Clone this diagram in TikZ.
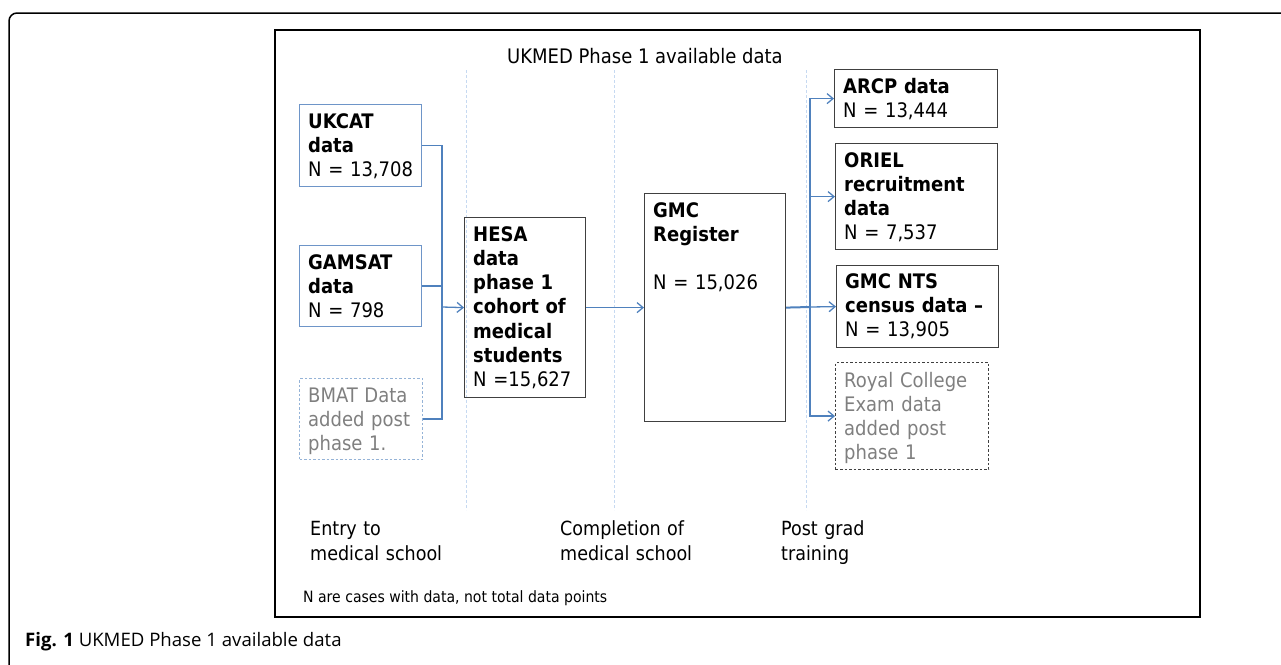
\documentclass[tikz,border=0pt]{standalone}
\usepackage{fontspec}
\setmainfont{DejaVu Sans Condensed}
\newfontfamily\capfont{Open Sans}[BoldFont={Open Sans Bold}]
\usetikzlibrary{arrows.meta}
\definecolor{connblue}{HTML}{4F81BD}
\definecolor{boxblue}{HTML}{6E95C8}
\definecolor{lightblue}{HTML}{95B3D7}
\definecolor{guideblue}{HTML}{C6D9F1}
\definecolor{boxgrey}{HTML}{404040}
\definecolor{txtgrey}{HTML}{7F7F7F}
\tikzset{
  box/.style={draw=#1, line width=1.2pt, inner sep=0pt, anchor=north west},
  dbox/.style={box=#1, dash pattern=on 2.5pt off 2pt},
  txt/.style={inner sep=0pt, anchor=base west, align=left, text width=#1,
    font=\fontsize{20}{24.3}\selectfont},
  lbl/.style={inner sep=0pt, anchor=base west, align=left, text width=160pt,
    font=\fontsize{19.5}{25}\selectfont},
  conn/.style={draw=connblue, line width=1.3pt},
  arr/.style={conn, -{Straight Barb[length=6pt,width=10pt]}},
  guide/.style={draw=guideblue, line width=1pt, dash pattern=on 3pt off 2pt}
}
\begin{document}
\begin{tikzpicture}[x=1pt,y=-1pt]
\useasboundingbox (0,0) rectangle (1281,664);
\clip (0,0) rectangle (1281,664);
% outer frame
\draw[line width=1.5pt, rounded corners=8pt] (9,680) -- (9,13) -- (1300,13);
% inner frame
\draw[line width=2pt] (275,30) rectangle (1200,617);
% title
\node (title) [inner sep=0pt, anchor=base west, font=\fontsize{20}{24}\selectfont] at (507,63) {UKMED Phase 1 available data};
% guides
\draw[guide] (466,70) -- (466,510);
\draw[guide] (614,70) -- (614,510);
\draw[guide] (806,70) -- (806,510);
% left boxes
\node (ukcat) [box=boxblue, minimum width=122pt, minimum height=82pt] at (299,104) {};
\node (ukcatT) [txt=112pt] at ([shift={(9,24)}]ukcat.north west) {\textbf{UKCAT}\\\textbf{data}\\N = 13,708};
\node (gamsat) [box=boxblue, minimum width=122pt, minimum height=81pt] at (299,245) {};
\node (gamsatT) [txt=112pt] at ([shift={(9,24)}]gamsat.north west) {\textbf{GAMSAT}\\\textbf{data}\\N = 798};
\node (bmat) [dbox=lightblue, minimum width=123pt, minimum height=81pt] at (299,378) {};
\node (bmatT) [txt=112pt, text=txtgrey] at ([shift={(9,24)}]bmat.north west) {BMAT Data\\added post\\phase 1.};
% HESA
\node (hesa) [box=boxgrey, minimum width=121pt, minimum height=180pt] at (464,217) {};
\node (hesaT) [txt=112pt] at ([shift={(9,24)}]hesa.north west) {\textbf{HESA}\\\textbf{data}\\\textbf{phase 1}\\\textbf{cohort of}\\\textbf{medical}\\\textbf{students}\\N =15,627};
% GMC
\node (gmc) [box=boxgrey, minimum width=141pt, minimum height=228pt] at (644,193) {};
\node (gmcT) [txt=130pt] at ([shift={(9,24)}]gmc.north west) {\textbf{GMC}\\\textbf{Register}\\\mbox{}\\N = 15,026};
% right boxes
\node (arcp) [box=boxgrey, minimum width=163pt, minimum height=58pt] at (834,69) {};
\node (arcpT) [txt=152pt] at ([shift={(9,24)}]arcp.north west) {\textbf{ARCP data}\\N = 13,444};
\node (oriel) [box=boxgrey, minimum width=162pt, minimum height=106pt] at (835,143) {};
\node (orielT) [txt=152pt] at ([shift={(9,24)}]oriel.north west) {\textbf{ORIEL}\\\textbf{recruitment}\\\textbf{data}\\N = 7,537};
\node (nts) [box=boxgrey, minimum width=162pt, minimum height=82pt] at (836,265) {};
\node (ntsT) [txt=152pt] at ([shift={(9,23)}]nts.north west) {\textbf{GMC NTS}\\\textbf{census data –}\\N = 13,905};
\node (royal) [dbox=boxgrey, minimum width=153pt, minimum height=107pt] at (835,362) {};
\node (royalT) [txt=145pt, text=txtgrey] at ([shift={(9,25)}]royal.north west) {Royal College\\Exam data\\added post\\phase 1};
% connectors
\coordinate (jL) at (442,307);
\coordinate (jR) at (810,307);
\draw[conn] (ukcat.east) -| (jL);
\draw[conn] (gamsat.east) -| (jL);
\draw[conn] (bmat.east) -| (jL);
\draw[arr] (jL) -- (hesa.west);
\draw[arr] (hesa.east) -- (gmc.west);
\draw[conn, line width=2pt] (gmc.east) -- (jR);
\draw[arr] (jR) |- (arcp.west);
\draw[arr] (jR) |- (oriel.west);
\draw[arr] (jR) -- (nts.west);
\draw[arr] (jR) |- (royal.west);
% bottom labels
\node (lab1) [lbl] at (310,535) {Entry to\\medical school};
\node (lab2) [lbl] at (560,535) {Completion of\\medical school};
\node (lab3) [lbl] at (781,535) {Post grad\\training};
\node (note) [inner sep=0pt, anchor=base west, font=\fontsize{15.6}{18}\selectfont] at (303,602) {N are cases with data, not total data points};
% caption
\node (caption) [inner sep=0pt, anchor=base west, font=\capfont\fontsize{18.6}{22}\selectfont] at (25,646) {\textbf{Fig. 1} UKMED Phase 1 available data};
\end{tikzpicture}
\end{document}
